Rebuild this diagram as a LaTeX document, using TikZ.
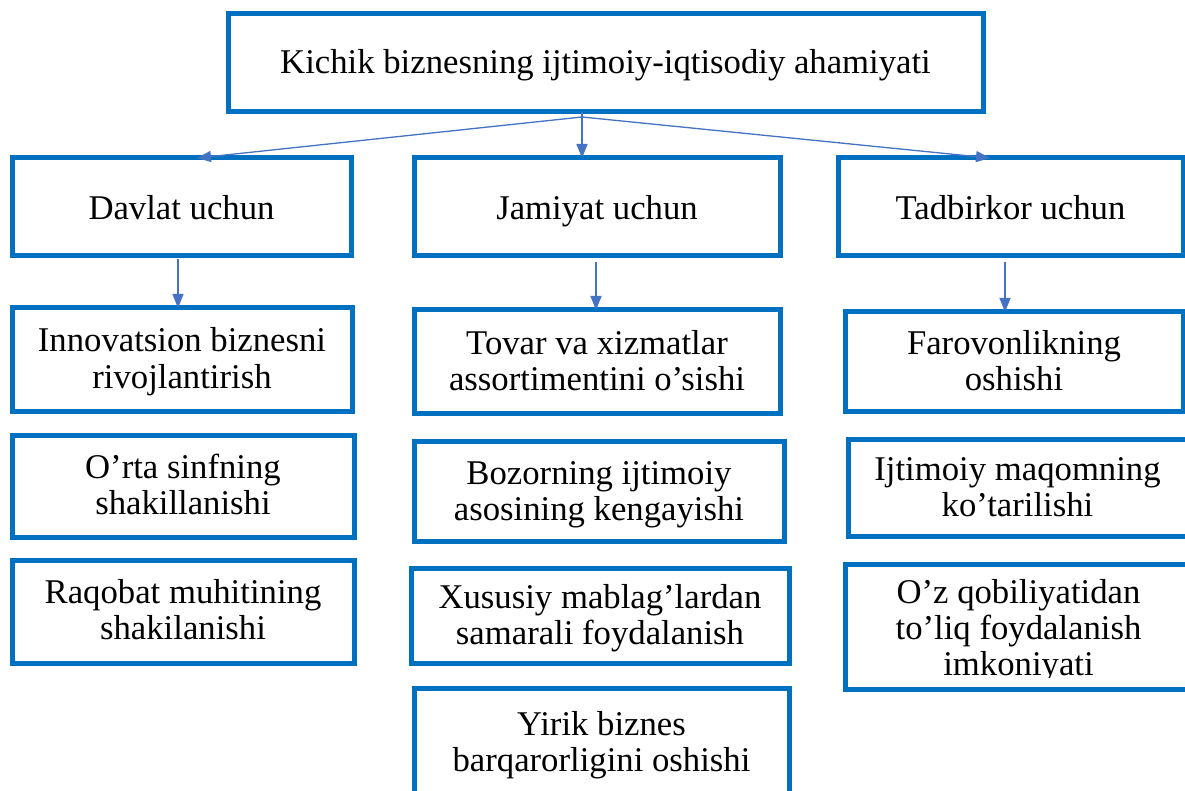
\documentclass[tikz,border=0pt]{standalone}
\usepackage{fontspec}
\setmainfont{Liberation Serif}
\usetikzlibrary{arrows.meta}
\definecolor{boxblue}{HTML}{0070C0}
\definecolor{arrblue}{HTML}{4472C4}
\tikzset{
  box/.style={draw=boxblue, line width=5pt, rectangle, inner sep=0pt, outer sep=0pt},
  txt/.style={inner sep=0pt, outer sep=0pt, align=center, font=\fontsize{34.7}{36}\selectfont},
  conn/.style={draw=arrblue, line width=1.3pt, -{Triangle[length=14pt,width=11pt]}}
}
% #1 name, #2 centre x, #3 centre y, #4 width, #5 height, #6 text x, #7 text y, #8 text
\newcommand\bx[8]{%
  \node[box, minimum width=#4pt, minimum height=#5pt] (#1) at (#2,#3) {};
  \node[txt] (#1t) at (#6,#7) {\strut #8\strut};}
\begin{document}
\begin{tikzpicture}[x=1pt,y=-1pt]
\useasboundingbox (0,0) rectangle (1185,791);
\clip (0,0) rectangle (1185,791);
\fill[white] (0,0) rectangle (1185,791);
% top
\bx{top}{605.5}{63}{755}{98}{605.5}{66.8}{Kichik biznesning ijtimoiy-iqtisodiy ahamiyati}
% second level
\bx{dav}{181.5}{207}{339}{98}{181.5}{212.8}{Davlat uchun}
\bx{jam}{597}{207}{366}{98}{597}{212.8}{Jamiyat uchun}
\bx{tad}{1010.5}{207}{345}{98}{1010.5}{212.8}{Tadbirkor uchun}
% left column
\bx{inn}{182}{359.5}{340}{103}{182}{362.8}{Innovatsion biznesni\\rivojlantirish}
\bx{orta}{183}{486}{342}{102}{183}{488.8}{O’rta sinfning\\shakillanishi}
\bx{raq}{183}{611.5}{342}{103}{183}{614.3}{Raqobat muhitining\\shakilanishi}
% middle column
\bx{tov}{597}{361.5}{366}{103}{597}{364.8}{Tovar va xizmatlar\\assortimentini o’sishi}
\bx{boz}{599}{491}{370}{100}{599}{494.8}{Bozorning ijtimoiy\\asosining kengayishi}
\bx{xus}{600}{615.5}{378}{95}{600}{618.8}{Xususiy mablag’lardan\\samarali foydalanish}
\bx{yir}{601.5}{744}{375}{112}{601.5}{745.8}{Yirik biznes\\barqarorligini oshishi}
% right column
\bx{far}{1014}{361.5}{338}{99}{1014}{364.8}{Farovonlikning\\oshishi}
\bx{ijt}{1024}{487.5}{352}{97}{1017.5}{490.8}{Ijtimoiy maqomning\\ko’tarilishi}
\node[box, minimum width=355pt, minimum height=125pt] (oz) at (1022.5,626.5) {};
\begin{scope}
\clip (800,560) rectangle (1185,677);
\node[txt] (ozt) at (1018.5,631.8) {\strut O’z qobiliyatidan\\to’liq foydalanish\\imkoniyati\strut};
\end{scope}
% connectors
\coordinate (split) at (582,117);
\draw[draw=arrblue, line width=1.3pt] (top.south -| split) -- (split);
\draw[conn] (split) -- ([xshift=15.5pt]dav.north);
\draw[conn] (split) -- ([xshift=-15pt]jam.north);
\draw[conn] (split) -- ([xshift=-20.5pt]tad.north);
\draw[conn] ([xshift=-3.5pt,yshift=-3pt]dav.south) -- ([xshift=-4pt]inn.north);
\draw[conn] ([xshift=-1pt,yshift=-6pt]jam.south) -- ([xshift=-1pt]tov.north);
\draw[conn] ([xshift=-5.5pt,yshift=-6pt]tad.south) -- ([xshift=-9pt]far.north);
\end{tikzpicture}
\end{document}
